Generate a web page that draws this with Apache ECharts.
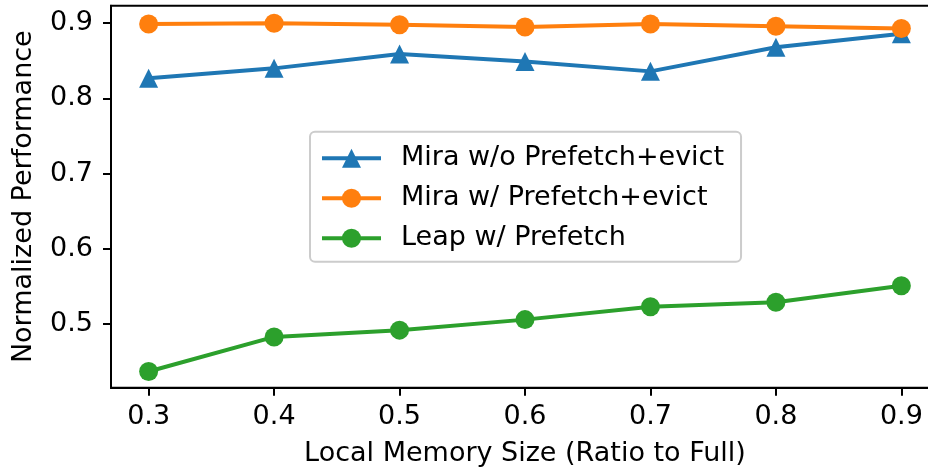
<!DOCTYPE html>
<html>
<head>
<meta charset="utf-8">
<script src="https://cdn.jsdelivr.net/npm/echarts@6/dist/echarts.min.js"></script>
<style>
  html, body { margin: 0; padding: 0; background: #ffffff; }
  #chart { width: 928px; height: 474px; }
</style>
</head>
<body>
<div id="chart"></div>
<script>
// Local memory size, as a ratio of the full working set
const memoryRatio = [0.3, 0.4, 0.5, 0.6, 0.7, 0.8, 0.9];

// Normalized performance for each configuration
const miraNoPrefetch = [0.827, 0.840, 0.859, 0.849, 0.836, 0.868, 0.886];
const miraPrefetch   = [0.899, 0.900, 0.898, 0.895, 0.899, 0.896, 0.893];
const leapPrefetch   = [0.437, 0.483, 0.492, 0.506, 0.523, 0.529, 0.551];

const seriesNames = ['Mira w/o Prefetch+evict', 'Mira w/ Prefetch+evict', 'Leap w/ Prefetch'];

// Tick positions on each axis
const xTicks = [0.3, 0.4, 0.5, 0.6, 0.7, 0.8, 0.9];
const yTicks = [0.5, 0.6, 0.7, 0.8, 0.9];

const FONT = 'DejaVu Sans';
const FS = 27;

const pairs = (ys) => memoryRatio.map((x, i) => [x, ys[i]]);

function lineSeries(name, ys, color, symbol) {
  return {
    name: name,
    type: 'line',
    data: pairs(ys),
    symbol: symbol,
    symbolSize: 19,
    showSymbol: true,
    lineStyle: { color: color, width: 4 },
    itemStyle: { color: color },
    emphasis: { disabled: true },
    animation: false
  };
}

const chart = echarts.init(document.getElementById('chart'), null, { renderer: 'canvas' });

chart.setOption({
  animation: false,
  backgroundColor: '#ffffff',
  // the plot box runs slightly past the right edge of the canvas
  grid: {
    left: 111,
    top: 5.7,
    right: -11,
    bottom: 86.3,
    outerBoundsMode: 'none',
    containLabel: false,
    show: true,
    borderColor: '#000000',
    borderWidth: 2,
    backgroundColor: 'transparent'
  },
  xAxis: {
    type: 'value',
    min: 0.27,
    max: 0.93,
    name: 'Local Memory Size (Ratio to Full)',
    nameLocation: 'middle',
    nameGap: 53,
    nameTextStyle: { fontFamily: FONT, fontSize: FS, color: '#000000' },
    axisLine: { show: true, lineStyle: { color: '#000000', width: 2 } },
    axisTick: { show: true, length: 8, lineStyle: { color: '#000000', width: 2 }, customValues: xTicks },
    axisLabel: {
      fontFamily: FONT, fontSize: FS, color: '#000000', margin: 16,
      customValues: xTicks,
      formatter: (v) => v.toFixed(1)
    },
    splitLine: { show: false }
  },
  yAxis: {
    type: 'value',
    min: 0.4155,
    max: 0.9233,
    name: 'Normalized Performance',
    nameLocation: 'middle',
    nameGap: 74,
    nameTextStyle: { fontFamily: FONT, fontSize: FS, color: '#000000' },
    axisLine: { show: true, lineStyle: { color: '#000000', width: 2 } },
    axisTick: { show: true, length: 8, lineStyle: { color: '#000000', width: 2 }, customValues: yTicks },
    axisLabel: {
      fontFamily: FONT, fontSize: FS, color: '#000000', margin: 18,
      customValues: yTicks,
      formatter: (v) => v.toFixed(1)
    },
    splitLine: { show: false }
  },
  legend: {
    orient: 'vertical',
    left: 310,
    top: 131.7,
    data: seriesNames,
    itemWidth: 59,
    itemHeight: 23.75,
    itemGap: 13,
    padding: [13, 17, 10, 10],
    backgroundColor: 'rgba(255,255,255,0.8)',
    borderColor: '#cccccc',
    borderWidth: 2,
    borderRadius: 5,
    selectedMode: false,
    lineStyle: { width: 4 },
    textStyle: {
      fontFamily: FONT, fontSize: FS, color: '#000000',
      lineHeight: 27,
      padding: [0, 0, 0, 15]
    }
  },
  series: [
    lineSeries(seriesNames[0], miraNoPrefetch, '#1f77b4', 'triangle'),
    lineSeries(seriesNames[1], miraPrefetch, '#ff7f0e', 'circle'),
    lineSeries(seriesNames[2], leapPrefetch, '#2ca02c', 'circle')
  ]
});
</script>
</body>
</html>
